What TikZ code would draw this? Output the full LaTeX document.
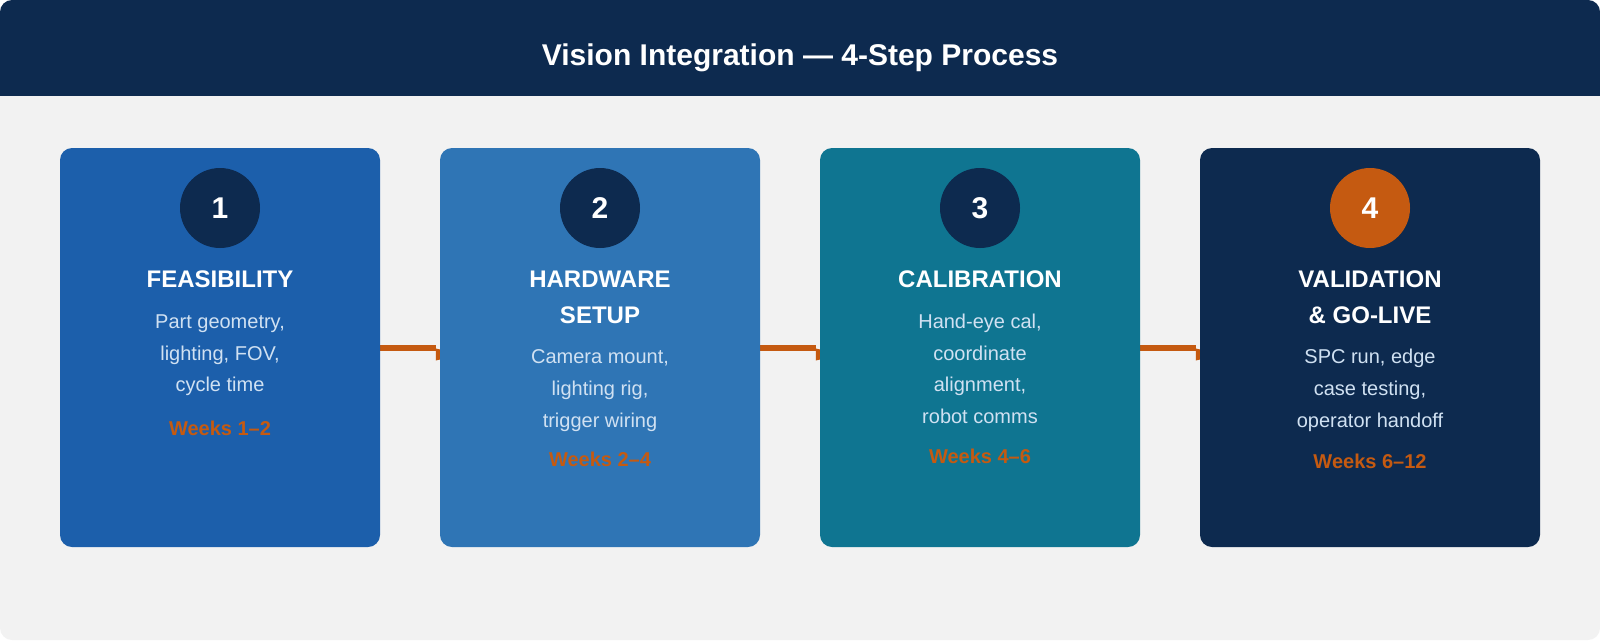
\documentclass[tikz,border=0pt]{standalone}
\usepackage{fontspec}
\setmainfont{Liberation Sans}
\usetikzlibrary{calc}
\definecolor{navy}{HTML}{0D2A4F}
\definecolor{pagebg}{HTML}{F2F2F2}
\definecolor{blueA}{HTML}{1C5FAB}
\definecolor{blueB}{HTML}{2F75B5}
\definecolor{tealC}{HTML}{0F7591}
\definecolor{accent}{HTML}{C55A11}
\definecolor{bodytxt}{HTML}{D0E1F2}
\pgfdeclarelayer{bottom}
\pgfdeclarelayer{behind}
\pgfsetlayers{bottom,behind,main}
\newcommand\cardlines[6]{%
  \foreach \t [count=\i] in {#6} {%
    \node[#5, anchor=base] (#1-\i) at (#2, {#3+(\i-1)*#4}) {\t};
  }%
}
\begin{document}
\begin{tikzpicture}[x=1pt,y=-1pt,
  card/.style={rectangle, rounded corners=12pt, minimum width=320pt, minimum height=399pt, inner sep=0pt},
  badge/.style={circle, minimum size=80pt, inner sep=0pt, fill=navy, text=white, font=\fontsize{30}{36}\selectfont\bfseries},
  headtxt/.style={text=white, inner sep=0pt, font=\fontsize{24}{29}\selectfont\bfseries},
  bodyline/.style={text=bodytxt, inner sep=0pt, font=\fontsize{20}{24}\selectfont},
  weektxt/.style={text=accent, inner sep=0pt, font=\fontsize{20}{24}\selectfont\bfseries},
  conn/.style={draw=accent, line width=6pt},
  connhead/.style={fill=accent}
]
\useasboundingbox (0,0) rectangle (1600,640);
\begin{pgfonlayer}{bottom}
  \fill[pagebg, rounded corners=12pt] (0,0) rectangle (1600,640);
  \begin{scope}
    \clip[rounded corners=12pt] (0,0) rectangle (1600,640);
    \fill[navy] (0,0) rectangle (1600,96);
  \end{scope}
\end{pgfonlayer}
\node[text=white, inner sep=0pt, anchor=base, font=\fontsize{30}{36}\selectfont\bfseries] (title) at (800,65) {Vision Integration — 4-Step Process};

% cards
\node[card, fill=blueA, minimum width=320pt] (b1) at (220,347.5) {};
\node[card, fill=blueB, minimum width=320pt] (b2) at (600,347.5) {};
\node[card, fill=tealC, minimum width=320pt] (b3) at (980,347.5) {};
\node[card, fill=navy, minimum width=340pt] (b4) at (1370,347.5) {};

% badges
\node[badge] (c1) at (220,208) {1};
\node[badge] (c2) at (600,208) {2};
\node[badge] (c3) at (980,208) {3};
\node[badge, fill=accent] (c4) at (1370,208) {4};

% card 1
\cardlines{h1}{220}{287.3}{36}{headtxt}{FEASIBILITY}
\cardlines{t1}{220}{328.3}{31.7}{bodyline}{{Part geometry,},{lighting, FOV,},{cycle time}}
\cardlines{w1}{220}{435.7}{0}{weektxt}{{Weeks 1–2}}
% card 2
\cardlines{h2}{600}{287.7}{35.7}{headtxt}{HARDWARE,SETUP}
\cardlines{t2}{600}{363.3}{32}{bodyline}{{Camera mount,},{lighting rig,},{trigger wiring}}
\cardlines{w2}{600}{466.7}{0}{weektxt}{{Weeks 2–4}}
% card 3
\cardlines{h3}{980}{287.7}{36}{headtxt}{CALIBRATION}
\cardlines{t3}{980}{328.3}{31.7}{bodyline}{{Hand-eye cal,},{coordinate},{alignment,},{robot comms}}
\cardlines{w3}{980}{463.3}{0}{weektxt}{{Weeks 4–6}}
% card 4
\cardlines{h4}{1370}{287.7}{35.7}{headtxt}{VALIDATION,{\& GO-LIVE}}
\cardlines{t4}{1370}{363.3}{32}{bodyline}{{SPC run, edge},{case testing,},{operator handoff}}
\cardlines{w4}{1370}{468.3}{0}{weektxt}{{Weeks 6–12}}

% connectors (behind the cards)
\begin{pgfonlayer}{behind}
  \draw[conn] (b1.east) -- ($(b2.west)+(-4,0)$);
  \fill[connhead] ($(b2.west)+(-4,1)$) -- ++(26,6) -- ++(-26,6) -- cycle;
  \draw[conn] (b2.east) -- ($(b3.west)+(-4,0)$);
  \fill[connhead] ($(b3.west)+(-4,1)$) -- ++(26,6) -- ++(-26,6) -- cycle;
  \draw[conn] (b3.east) -- ($(b4.west)+(-4,0)$);
  \fill[connhead] ($(b4.west)+(-4,1)$) -- ++(26,6) -- ++(-26,6) -- cycle;
\end{pgfonlayer}
\end{tikzpicture}
\end{document}
